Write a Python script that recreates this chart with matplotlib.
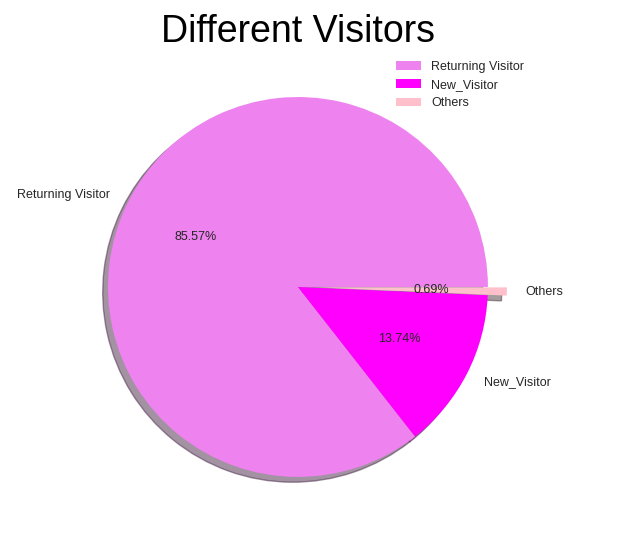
import matplotlib
matplotlib.use("Agg")
import matplotlib.pyplot as plt

labels = ['Returning Visitor', 'New_Visitor', 'Others']
sizes = [85.57, 13.74, 0.69]
colors = ['violet', 'magenta', 'pink']
explode = [0, 0, 0.1]

plt.rcParams['font.family'] = ['Liberation Sans', 'DejaVu Sans']
plt.rcParams['text.color'] = '#262626'

fig = plt.figure(figsize=(6.29, 5.35), dpi=100)
ax = fig.add_axes([0.0962, 0.0196, 0.755, 0.888])
ax.pie(sizes, labels=labels, colors=colors, explode=explode,
       autopct='%.2f%%', shadow=True, textprops={'fontsize': 9})
ax.set_aspect('equal')
ax.set_title('Different Visitors', fontsize=27, pad=2, color='black')
ax.legend(loc='upper right', bbox_to_anchor=(1.0, 1.0), frameon=False, fontsize=9)

fig.savefig('out.png', dpi=100, facecolor='white')
